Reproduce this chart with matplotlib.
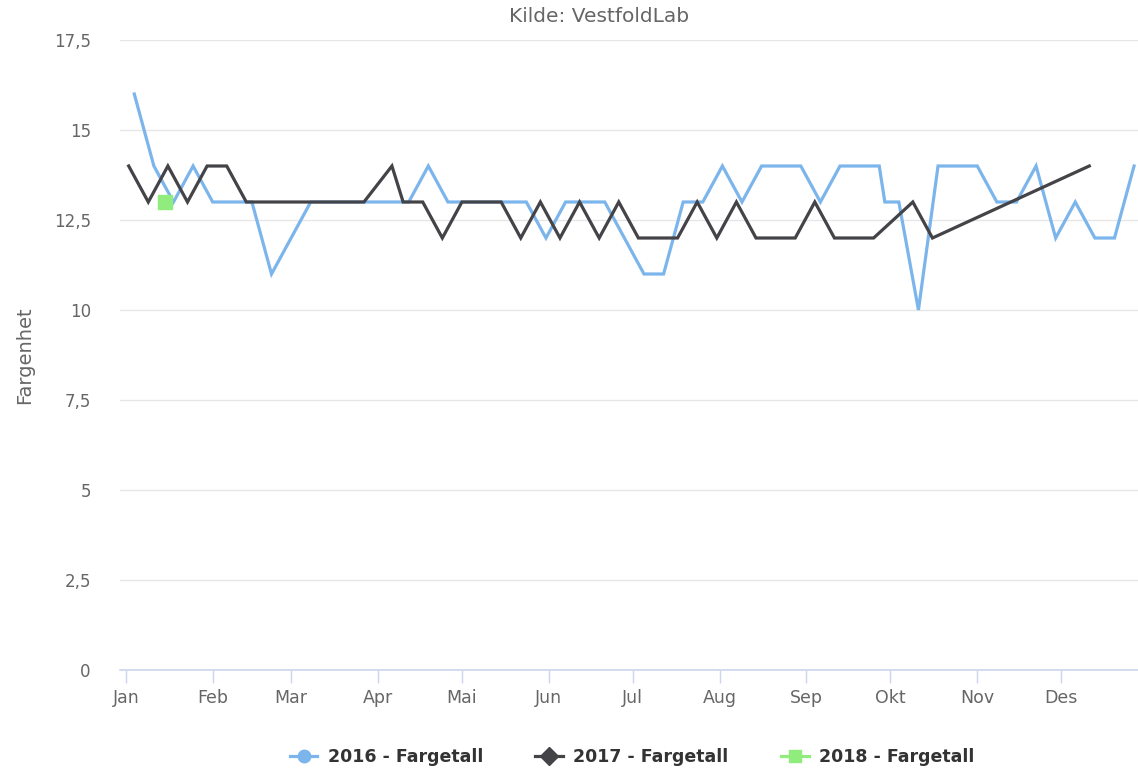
import numpy as np
import pandas as pd
import matplotlib
matplotlib.use("Agg")
import matplotlib.pyplot as plt
from matplotlib.lines import Line2D

YEAR = "2017"

months = ["Jan", "Feb", "Mar", "Apr", "Mai", "Jun", "Jul", "Aug", "Sep", "Okt", "Nov", "Des"]

dates_2016 = ["01-04", "01-11", "01-18", "01-25", "02-01", "02-08", "02-15", "02-22",
              "03-01", "03-08", "03-15", "03-22", "03-29", "04-05", "04-12", "04-19",
              "04-26", "05-03", "05-10", "05-17", "05-24", "05-31", "06-07", "06-14",
              "06-21", "06-28", "07-05", "07-12", "07-19", "07-26", "08-02", "08-09",
              "08-16", "08-23", "08-30", "09-06", "09-13", "09-20", "09-27", "09-29",
              "10-04", "10-11", "10-18", "10-25", "11-01", "11-08", "11-15", "11-22",
              "11-29", "12-06", "12-13", "12-20", "12-27"]
fargetall_2016 = [16, 14, 13, 14, 13, 13, 13, 11, 12, 13, 13, 13, 13, 13, 13, 14,
                  13, 13, 13, 13, 13, 12, 13, 13, 13, 12, 11, 11, 13, 13, 14, 13,
                  14, 14, 14, 13, 14, 14, 14, 13, 13, 10, 14, 14, 14, 13, 13, 14,
                  12, 13, 12, 12, 14]

dates_2017 = ["01-02", "01-09", "01-16", "01-23", "01-30", "02-06", "02-13", "02-20",
              "02-27", "03-06", "03-13", "03-20", "03-27", "04-06", "04-10", "04-17",
              "04-24", "05-01", "05-08", "05-15", "05-22", "05-29", "06-05", "06-12",
              "06-19", "06-26", "07-03", "07-10", "07-17", "07-24", "07-31", "08-07",
              "08-14", "08-21", "08-28", "09-04", "09-11", "09-18", "09-25", "10-09",
              "10-16", "12-11"]
fargetall_2017 = [14, 13, 14, 13, 14, 14, 13, 13, 13, 13, 13, 13, 13, 14, 13, 13,
                  12, 13, 13, 13, 12, 13, 12, 13, 12, 13, 12, 12, 12, 13, 12, 13,
                  12, 12, 12, 13, 12, 12, 12, 13, 12, 14]

dates_2018 = ["01-15"]
fargetall_2018 = [13]

yticks = [0, 2.5, 5, 7.5, 10, 12.5, 15, 17.5]


def to_dates(md):
    return pd.to_datetime([YEAR + "-" + d for d in md])


fig = plt.figure(figsize=(11.38, 7.75), dpi=100)
ax = fig.add_axes([120 / 1138, 105 / 775, 1018 / 1138, 630 / 775])

series = [
    ("2016 - Fargetall", dates_2016, fargetall_2016, "#7cb5ec", "o"),
    ("2017 - Fargetall", dates_2017, fargetall_2017, "#434348", "D"),
    ("2018 - Fargetall", dates_2018, fargetall_2018, "#90ed7d", "s"),
]

for name, d, v, col, mk in series:
    x = to_dates(d)
    if len(v) > 1:
        ax.plot(x, v, color=col, lw=2.3, solid_joinstyle="miter", zorder=3)
    else:
        ax.plot(x, v, ls="none", marker=mk, ms=10, color=col, zorder=4)

base = pd.Timestamp(YEAR + "-01-01")
ax.set_xlim(base + pd.Timedelta(days=-2.1), base + pd.Timedelta(days=361.4))
ax.set_ylim(0, 17.5)

month_starts = pd.date_range(YEAR + "-01-01", periods=12, freq="MS")
ax.set_xticks(month_starts)
ax.set_xticklabels(months)
ax.set_yticks(yticks)
ax.set_yticklabels([f"{t:g}".replace(".", ",") for t in yticks])

ax.grid(axis="y", color="#e6e6e6", lw=1)
ax.set_axisbelow(True)
for s in ["top", "right", "left"]:
    ax.spines[s].set_visible(False)
ax.spines["bottom"].set_color("#ccd6eb")
ax.spines["bottom"].set_linewidth(1.2)
ax.spines["bottom"].set_zorder(2)

ax.tick_params(axis="x", length=9, width=1, color="#ccd6eb", labelcolor="#666666",
               labelsize=12.5, pad=5)
ax.tick_params(axis="y", length=0, labelcolor="#666666", labelsize=12, pad=21)

ax.set_ylabel("Fargenhet", color="#666666", fontsize=14, labelpad=14)

fig.text(599 / 1138, 1 - 16 / 775, "Kilde: VestfoldLab", ha="center", va="center",
         color="#666666", fontsize=14.5)

handles = [Line2D([0], [0], color=c, lw=2.3, marker=m, ms=9) for _, _, _, c, m in series]
labels = [s[0] for s in series]
fig.legend(handles, labels, loc="center", bbox_to_anchor=(632 / 1138, 1 - 757 / 775),
           ncol=3, frameon=False, handlelength=1.6, columnspacing=3.0,
           handletextpad=0.6, prop={"weight": "bold", "size": 12.5}, labelcolor="#333333")

fig.savefig("out.png", dpi=100)
